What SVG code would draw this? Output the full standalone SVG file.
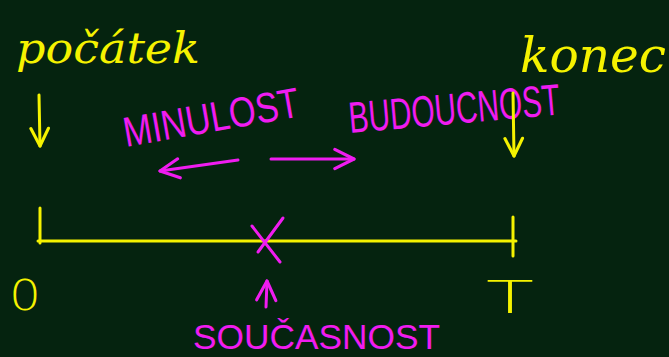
<svg xmlns="http://www.w3.org/2000/svg" width="669" height="357" viewBox="0 0 669 357">
<style>
.y{fill:#F5F200;font-family:"Liberation Sans",sans-serif}
.m{fill:#F01CF0;font-family:"Liberation Sans",sans-serif}
.thin{font-family:"DejaVu Sans","Liberation Sans",sans-serif;font-weight:200}
.ys{stroke:#F5F200;stroke-width:3;fill:none;stroke-linecap:round;stroke-linejoin:round}
.ms{stroke:#F01CF0;stroke-width:3;fill:none;stroke-linecap:round;stroke-linejoin:round}
.cur{font-family:"DejaVu Serif",serif;font-style:italic}
</style>
<defs>
<marker id="ay" viewBox="0 0 10 10" refX="9" refY="5" markerWidth="22" markerHeight="22" markerUnits="userSpaceOnUse" orient="auto">
<path d="M1,1 L9,5 L1,9" fill="none" stroke="#F5F200" stroke-width="1.4" stroke-linecap="round" stroke-linejoin="round"/>
</marker>
<marker id="am" viewBox="0 0 10 10" refX="9" refY="5" markerWidth="24" markerHeight="24" markerUnits="userSpaceOnUse" orient="auto">
<path d="M1,1 L9,5 L1,9" fill="none" stroke="#F01CF0" stroke-width="1.3" stroke-linecap="round" stroke-linejoin="round"/>
</marker>
</defs>
<rect width="669" height="357" fill="#05230F"/>

<g id="pocatek">
<text class="y cur" x="16" y="63" font-size="42" textLength="184" lengthAdjust="spacingAndGlyphs">počátek</text>
</g>
<g id="konec">
<text class="y cur" x="520" y="72" font-size="48" textLength="146" lengthAdjust="spacingAndGlyphs">konec</text>
</g>
<g id="minulost">
<text class="m" x="126" y="147" font-size="42" textLength="178" lengthAdjust="spacingAndGlyphs" transform="rotate(-10 126 147)">MINULOST</text>
</g>
<g id="budoucnost">
<text class="m" x="350" y="133" font-size="44" textLength="212" lengthAdjust="spacingAndGlyphs" transform="rotate(-5 350 133)">BUDOUCNOST</text>
</g>
<g id="soucasnost">
<text class="m" x="193" y="349" font-size="35" textLength="247" lengthAdjust="spacingAndGlyphs">SOUČASNOST</text>
</g>
<g id="zero">
<text class="y thin" x="9" y="310" font-size="42" textLength="32" lengthAdjust="spacingAndGlyphs">0</text>
</g>
<g id="T">
<text class="y thin" x="486" y="313" font-size="44" textLength="48" lengthAdjust="spacingAndGlyphs">T</text>
</g>

<g id="timeline">
<line class="ys" x1="38" y1="241" x2="516" y2="241" stroke-width="4"/>
<line class="ys" x1="40" y1="208" x2="40" y2="243"/>
<line class="ys" x1="513" y1="217" x2="513" y2="256"/>
</g>
<g id="now-mark">
<line class="ms" x1="252" y1="226" x2="280" y2="262" stroke-width="2.5"/>
<line class="ms" x1="283" y1="218" x2="258" y2="252" stroke-width="2.5"/>
</g>

<g id="connectors">
<line class="ys" x1="39" y1="95" x2="40" y2="146" marker-end="url(#ay)"/>
<line class="ys" x1="513" y1="93" x2="514" y2="156" marker-end="url(#ay)"/>
<line class="ms" x1="238" y1="160" x2="160" y2="171" marker-end="url(#am)"/>
<line class="ms" x1="271" y1="159" x2="354" y2="159" marker-end="url(#am)"/>
<line class="ms" x1="266" y1="307" x2="267" y2="281" marker-end="url(#am)"/>
</g>
</svg>
